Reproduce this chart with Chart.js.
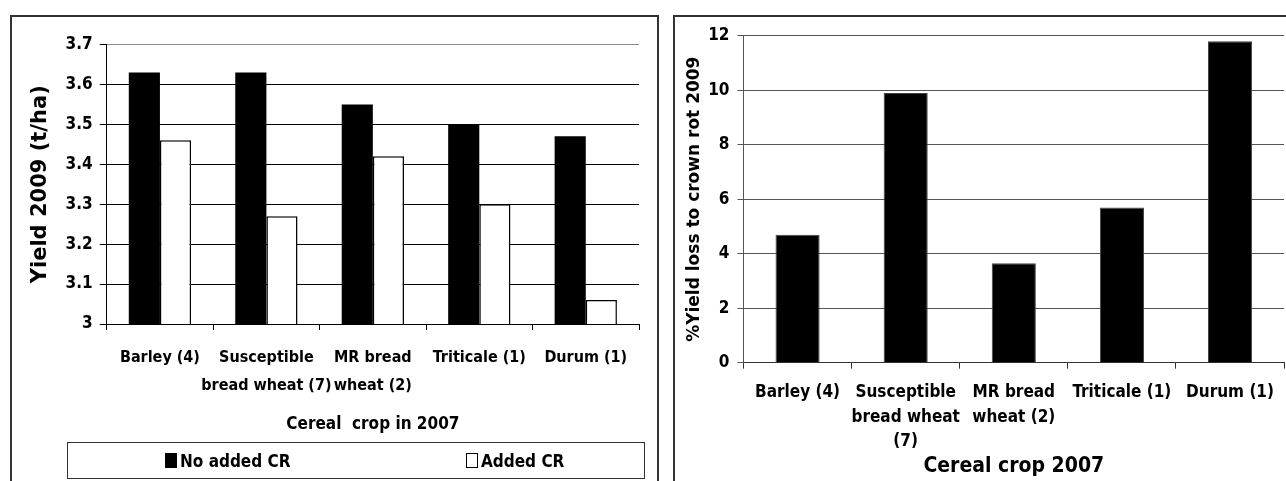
<!DOCTYPE html>
<html>
<head>
<meta charset="utf-8">
<script src="https://cdn.jsdelivr.net/npm/chart.js@4.4.0/dist/chart.umd.min.js"></script>
<style>
  body { margin: 0; background: #fff; width: 1286px; height: 481px; overflow: hidden; position: relative;
         font-family: 'Liberation Sans Narrow', 'DejaVu Sans Condensed', sans-serif; }
  .frame { position: absolute; border: 2px solid #333; box-sizing: border-box; }
  canvas { position: absolute; }
  #legend { position: absolute; left: 67px; top: 442px; width: 578px; height: 37px; border: 1.5px solid #333; box-sizing: border-box; }
  .item { position: absolute; top: 0; height: 100%; display: flex; align-items: center; font-weight: bold; font-size: 17px; color: #000; }
  .sw { width: 12px; height: 15px; box-sizing: border-box; border: 1.5px solid #000; margin-right: 3px; }
</style>
</head>
<body>
<div class="frame" style="left:10px; top:15px; width:649px; height:480px;"></div>
<div class="frame" style="left:673px; top:15px; width:700px; height:480px;"></div>
<canvas id="yieldChart" width="644" height="464" style="left:12px; top:17px;"></canvas>
<canvas id="lossChart" width="611" height="464" style="left:675px; top:17px;"></canvas>
<div id="legend">
  <div class="item" style="left:97px;"><span class="sw" style="background:#000;"></span>No added CR</div>
  <div class="item" style="left:398px;"><span class="sw" style="background:#fff;"></span>Added CR</div>
</div>
<script>
// left chart: yield 2009
const yieldCategories = ['Barley (4)', ['Susceptible', 'bread wheat (7)'], ['MR bread', 'wheat (2)'], 'Triticale (1)', 'Durum (1)'];
const noAddedCR = [3.63, 3.63, 3.55, 3.50, 3.47];
const addedCR = [3.46, 3.27, 3.42, 3.30, 3.06];
const yieldTicks = ['3', '3.1', '3.2', '3.3', '3.4', '3.5', '3.6', '3.7'];

// right chart: % yield loss
const lossCategories = ['Barley (4)', ['Susceptible', 'bread wheat', '(7)'], ['MR bread', 'wheat (2)'], 'Triticale (1)', 'Durum (1)'];
const yieldLoss = [4.7, 9.9, 3.65, 5.7, 11.8];
const lossTicks = ['0', '2', '4', '6', '8', '10', '12'];

const narrow = "'Liberation Sans Narrow', 'DejaVu Sans Condensed', sans-serif";
const wide = "'DejaVu Sans', Verdana, sans-serif";

Chart.defaults.color = '#000';

new Chart(document.getElementById('yieldChart'), {
  type: 'bar',
  data: {
    labels: yieldCategories,
    datasets: [
      { label: 'No added CR', data: noAddedCR, backgroundColor: '#000', borderWidth: 0 },
      { label: 'Added CR', data: addedCR, backgroundColor: '#fff', borderColor: '#000', borderWidth: 1.5 }
    ]
  },
  options: {
    responsive: false,
    animation: false,
    devicePixelRatio: 1,
    datasets: { bar: { categoryPercentage: 0.585, barPercentage: 1 } },
    layout: { padding: { left: 0, right: 17, top: 27.5, bottom: 47.5 } },
    plugins: { legend: { display: false }, tooltip: { enabled: false } },
    scales: {
      x: {
        afterFit: (s) => { s.height = 109.5; },
        border: { color: '#000', width: 1 },
        grid: {
          drawOnChartArea: true,
          color: (c) => c.index === yieldCategories.length ? '#8c8c8c' : 'rgba(0,0,0,0)',
          tickColor: '#000',
          tickLength: 6
        },
        ticks: {
          autoSkip: false, maxRotation: 0, padding: 14,
          font: { family: narrow, size: 16, weight: 'bold', lineHeight: '28px' }
        },
        title: {
          display: true, text: 'Cereal  crop in 2007', padding: { top: 0, bottom: 0 },
          font: { family: narrow, size: 17, weight: 'bold', lineHeight: 1 }
        }
      },
      y: {
        min: 3, max: 3.7,
        afterFit: (s) => { s.width = 94.7; },
        border: { color: '#000', width: 1 },
        grid: {
          color: (c) => c.tick && c.tick.value > 3.65 ? '#8c8c8c' : '#000',
          tickColor: '#000',
          tickLength: 7
        },
        ticks: {
          stepSize: 0.1, padding: 7,
          callback: (v) => yieldTicks[Math.round((v - 3) * 10)],
          font: { family: narrow, size: 17, weight: 'bold' }
        },
        title: {
          display: true, text: 'Yield 2009 (t/ha)', padding: { top: 18.5, bottom: 0 },
          font: { family: wide, size: 21, weight: 'bold', lineHeight: 1 }
        }
      }
    }
  }
});

new Chart(document.getElementById('lossChart'), {
  type: 'bar',
  data: {
    labels: lossCategories,
    datasets: [
      { label: '%Yield loss', data: yieldLoss, backgroundColor: '#000', borderColor: '#444', borderWidth: 1 }
    ]
  },
  options: {
    responsive: false,
    animation: false,
    devicePixelRatio: 1,
    datasets: { bar: { categoryPercentage: 0.408, barPercentage: 1 } },
    layout: { padding: { left: 0, right: 0, top: 18.7, bottom: 3.8 } },
    plugins: { legend: { display: false }, tooltip: { enabled: false } },
    scales: {
      x: {
        afterFit: (s) => { s.height = 114.5; },
        border: { color: '#333', width: 1 },
        grid: { drawOnChartArea: false, tickColor: '#333', tickLength: 6 },
        ticks: {
          autoSkip: false, maxRotation: 0, padding: 12,
          font: { family: narrow, size: 17, weight: 'bold', lineHeight: '24.5px' }
        },
        title: {
          display: true, text: 'Cereal crop 2007', padding: { top: 0, bottom: 0 },
          font: { family: narrow, size: 21, weight: 'bold', lineHeight: 1 }
        }
      },
      y: {
        min: 0, max: 12,
        afterFit: (s) => { s.width = 68.5; },
        border: { color: '#555', width: 1 },
        grid: { color: '#555', tickColor: '#555', tickLength: 6 },
        ticks: {
          stepSize: 2, padding: 8,
          callback: (v) => lossTicks[Math.round(v / 2)],
          font: { family: narrow, size: 17, weight: 'bold' }
        },
        title: {
          display: true, text: '%Yield loss to crown rot 2009', padding: { top: 11.1, bottom: 0 },
          font: { family: wide, size: 17, weight: 'bold', lineHeight: 1 }
        }
      }
    }
  }
});
</script>
</body>
</html>
